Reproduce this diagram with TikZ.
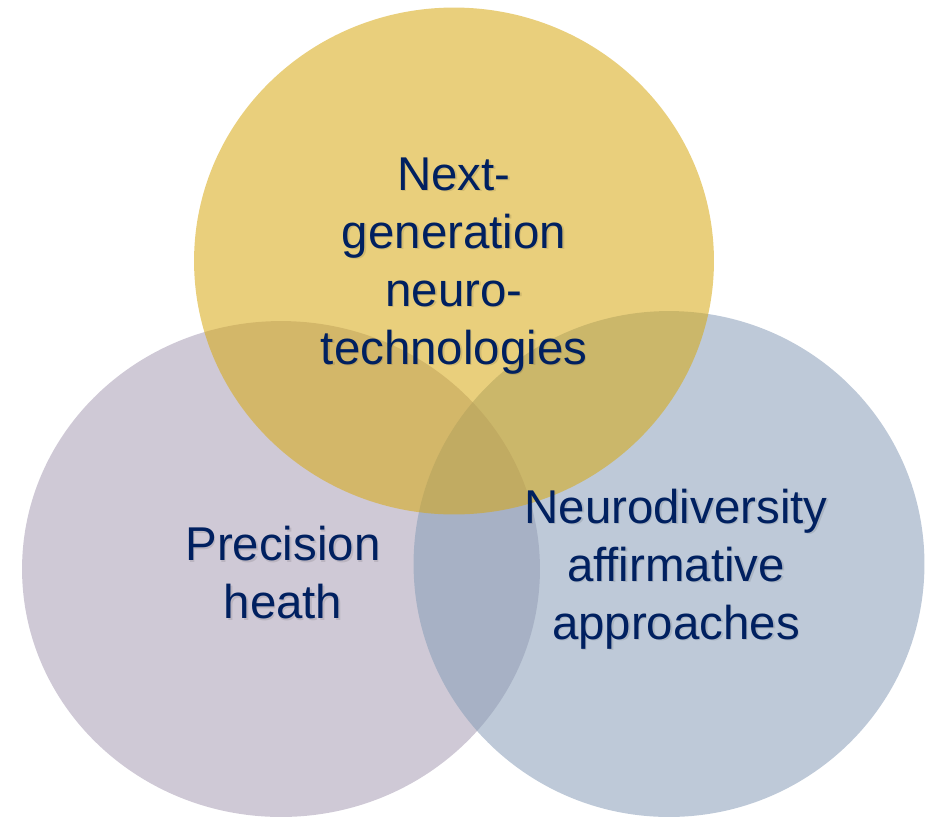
\documentclass[tikz,border=0pt]{standalone}
\usepackage{fontspec}
\setmainfont{Liberation Sans}
\usetikzlibrary{shapes.geometric}
\definecolor{set-gold}{RGB}{215,168,17}
\definecolor{set-lilac}{RGB}{168,157,180}
\definecolor{set-steel}{RGB}{136,157,184}
\definecolor{txt-navy}{RGB}{0,32,96}

\begin{document}
\begin{tikzpicture}
    [x=0.02cm, y=-0.02cm,
    blob/.style = {ellipse, inner sep=0pt, fill opacity=0.55},
    lbl/.style = {align=center, text=txt-navy, inner sep=0pt,
            font=\fontsize{27}{33}\selectfont},
    lblshadow/.style = {lbl, text=black, text opacity=0.1},
    ]

\useasboundingbox (0, 0) rectangle (925, 822);

% the three sets
\node[blob, fill=set-lilac, minimum width=10.36cm, minimum height=9.92cm] (prec) at (281, 569) {};
\node[blob, fill=set-steel, minimum width=10.22cm, minimum height=10.12cm] (neuro) at (669, 564) {};
\node[blob, fill=set-gold, minimum width=10.4cm, minimum height=10.14cm] (nextgen) at (454, 261) {};

% labels (soft shadow first)
\node[lblshadow] (s-nextgen) at (455.5, 267.5) {Next-\\generation\\neuro-\\technologies};
\node[lblshadow] (s-prec) at (284.5, 574.5) {Precision\\heath};
\node[lblshadow] (s-neuro) at (677.5, 570.5) {Neurodiversity\\affirmative\\approaches};

\node[lbl] (t-nextgen) at (454, 266) {Next-\\generation\\neuro-\\technologies};
\node[lbl] (t-prec) at (283, 573) {Precision\\heath};
\node[lbl] (t-neuro) at (676, 569) {Neurodiversity\\affirmative\\approaches};

\end{tikzpicture}
\end{document}
